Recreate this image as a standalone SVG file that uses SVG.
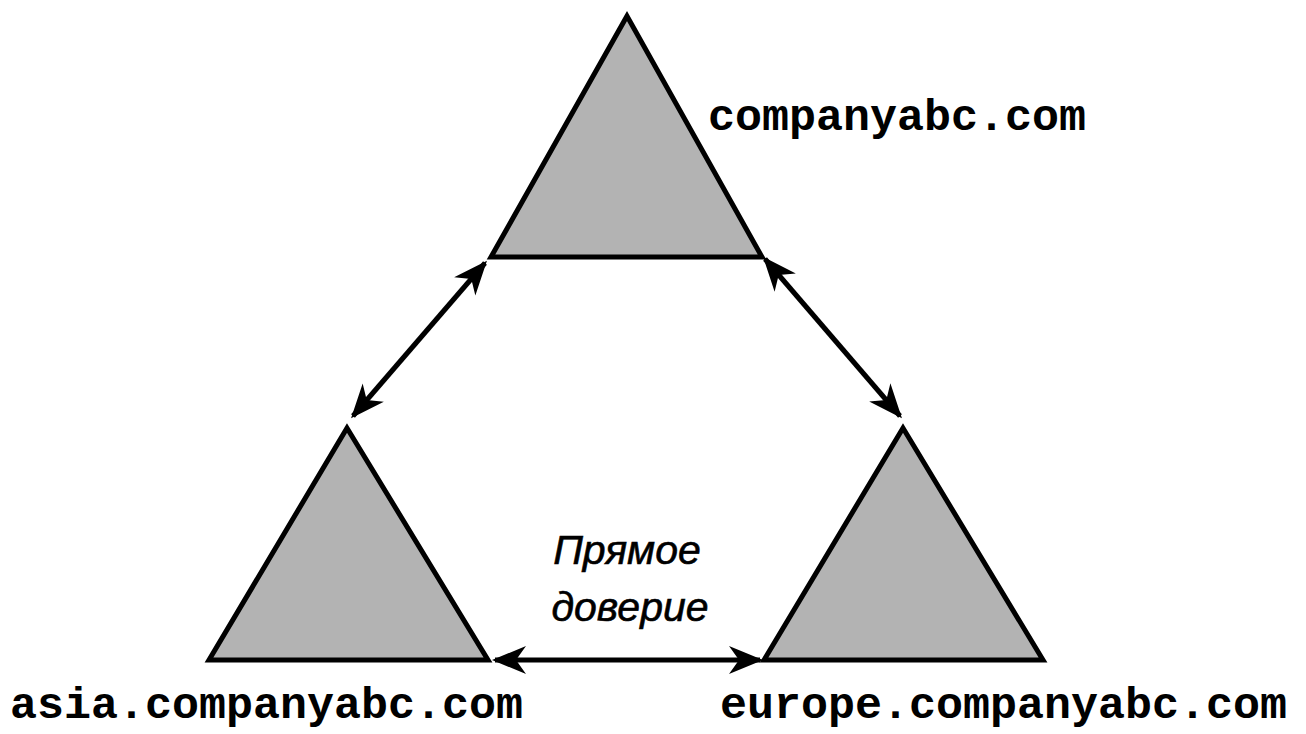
<svg xmlns="http://www.w3.org/2000/svg" width="1306" height="734" viewBox="0 0 1306 734">
  <style>
    .tri { fill: #b3b3b3; stroke: #000; stroke-width: 5; stroke-linejoin: miter; }
    .conn { stroke: #000; stroke-width: 5; fill: none; marker-start: url(#ah); marker-end: url(#ah); }
    .dom { font-family: "Liberation Mono", "Courier New", monospace; font-weight: bold; font-size: 45px; fill: #000; }
    .lbl { font-family: "Liberation Sans", Arial, sans-serif; font-style: italic; font-size: 41px; fill: #000; stroke: #000; stroke-width: 0.6; text-anchor: middle; }
  </style>
  <defs>
    <marker id="ah" markerUnits="userSpaceOnUse" markerWidth="44" markerHeight="36" refX="31" refY="15" orient="auto-start-reverse">
      <path d="M0,1 L34,15 L0,29 L10,15 Z" fill="#000"/>
    </marker>
  </defs>
  <rect width="1306" height="734" fill="#fff"/>
  <g id="top">
    <polygon class="tri" points="627,16 491,257 762,257"/>
    <text class="dom" x="708" y="130">companyabc.com</text>
  </g>
  <g id="asia">
    <polygon class="tri" points="347,428 209,660 488,660"/>
    <text class="dom" x="10" y="718">asia.companyabc.com</text>
  </g>
  <g id="europe">
    <polygon class="tri" points="903,428 764,660 1043,660"/>
    <text class="dom" x="720" y="718">europe.companyabc.com</text>
  </g>
  <g id="connectors">
    <line class="conn" x1="485" y1="263" x2="353" y2="416"/>
    <line class="conn" x1="765" y1="259" x2="900" y2="416"/>
    <line class="conn" x1="495" y1="660" x2="760" y2="660"/>
  </g>
  <g id="label">
    <text class="lbl" x="627" y="564">Прямое</text>
    <text class="lbl" x="630" y="621">доверие</text>
  </g>
</svg>
